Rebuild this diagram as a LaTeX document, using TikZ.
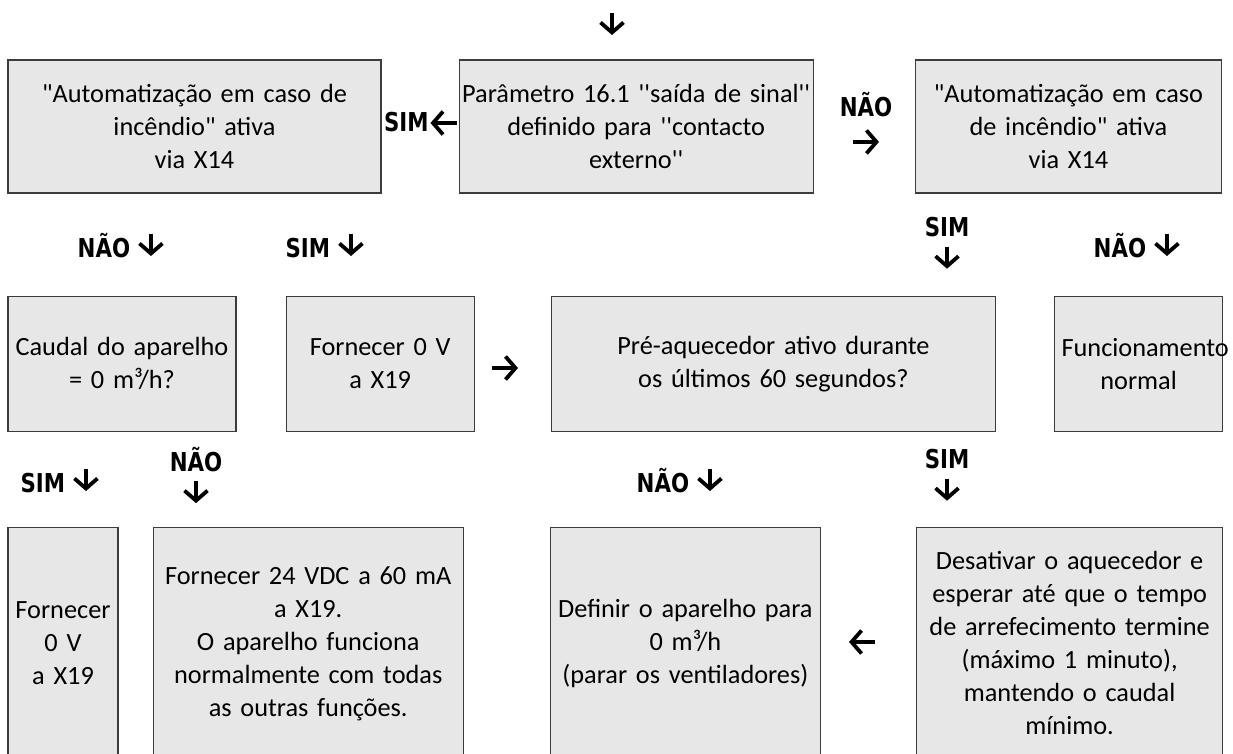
\documentclass[tikz,border=0pt]{standalone}
\usepackage{fontspec}
\usetikzlibrary{positioning,arrows.meta}

\newfontfamily\boxfont{Carlito}
\newfontfamily\lblfont{DejaVu Sans}[FakeStretch=0.82]
\definecolor{boxgray}{RGB}{231,231,231}
\definecolor{boxline}{RGB}{60,60,60}

\tikzset{
  box/.style={draw=boxline, line width=1.2pt, fill=boxgray, inner xsep=2pt, inner ysep=0pt,
    align=center, font=\boxfont\fontsize{26.3}{33}\selectfont},
  lbl/.style={inner sep=0pt, align=center, font=\lblfont\bfseries\fontsize{26}{33}\selectfont},
  arr/.style={line width=3.8pt, -{Straight Barb[length=10pt,width=23pt]}},
}
\newcommand{\dn}{\tikz[baseline=0pt]\draw[arr] (0,23pt) -- (0,1pt);}
\newcommand{\lf}{\tikz[baseline=0pt]\draw[arr] (27pt,8pt) -- (1pt,8pt);}
\newcommand{\rt}{\tikz[baseline=0pt]\draw[arr] (0,8pt) -- (26pt,8pt);}

\begin{document}
\begin{tikzpicture}[x=1pt,y=1pt]
  \useasboundingbox (0,0) rectangle (1233,-753);
  \clip (0,0) rectangle (1233,-753);

  % top row
  \node[box, text width=369pt, minimum height=133pt] (autoL) at (194.5,-126.5)
    {"Automatização em caso de\\incêndio" ativa\\via X14};
  \node[box, text width=350pt, minimum height=133pt, right=77pt of autoL] (param)
    {Parâmetro 16.1 ''saída de sinal''\\definido para ''contacto\\externo''};
  \node[box, text width=302pt, minimum height=133pt, right=101pt of param] (autoR)
    {"Automatização em caso\\de incêndio" ativa\\via X14};

  % middle row
  \node[box, text width=224pt, minimum height=135pt, anchor=north west] (caudal)
    at ([yshift=-102pt]autoL.south west) {Caudal do aparelho\\= 0 m³/h?};
  \node[box, text width=184pt, minimum height=135pt, right=49pt of caudal] (zeroA)
    {Fornecer 0 V\\a X19};
  \node[box, text width=440pt, minimum height=135pt, right=76pt of zeroA] (preheat)
    {Pré-aquecedor ativo durante\\os últimos 60 segundos?};
  \node[box, inner xsep=7pt, text width=154pt, minimum height=135pt, right=58pt of preheat] (normal)
    {Funcionamento\\normal};

  % bottom row (cut off by the page)
  \node[box, text width=106pt, minimum height=232pt, anchor=north west] (zeroB)
    at ([yshift=-95pt]caudal.south west) {Fornecer\\0 V\\a X19};
  \node[box, text width=306pt, minimum height=232pt, right=34pt of zeroB] (supply)
    {Fornecer 24 VDC a 60 mA\\a X19.\\O aparelho funciona\\normalmente com todas\\as outras funções.};
  \node[box, text width=266pt, minimum height=232pt, right=86pt of supply] (stopfan)
    {Definir o aparelho para\\0 m³/h\\(parar os ventiladores)};
  \node[box, text width=302pt, minimum height=232pt, right=95pt of stopfan] (cooldown)
    {Desativar o aquecedor e\\esperar até que o tempo\\de arrefecimento termine\\(máximo 1 minuto),\\mantendo o caudal\\mínimo.};

  % labels and arrows
  \node[lbl] (start) at (612,-24) {\dn};
  \node[lbl, anchor=base east] (simA) at (param.west |- 0,-131) {SIM\lf};
  \node[lbl] (naoA) at (866,-124) {NÃO\\\rt};

  \node[lbl, anchor=base] (naoB) at (121,-257) {NÃO \dn};
  \node[lbl, anchor=base] (simB) at (325,-257) {SIM \dn};
  \node[lbl] (simC) at (947,-244) {SIM\\\dn};
  \node[lbl, anchor=base] (naoC) at (1137,-257) {NÃO \dn};

  \node[lbl] (toPre) at (505,-368) {\rt};

  \node[lbl, anchor=base] (simD) at (60,-492) {SIM \dn};
  \node[lbl] (naoD) at (196,-476) {NÃO\\\dn};
  \node[lbl, anchor=base] (naoE) at (680,-492) {NÃO \dn};
  \node[lbl] (simE) at (947,-476) {SIM\\\dn};

  \node[lbl] (toStop) at (862,-642) {\lf};
\end{tikzpicture}
\end{document}
